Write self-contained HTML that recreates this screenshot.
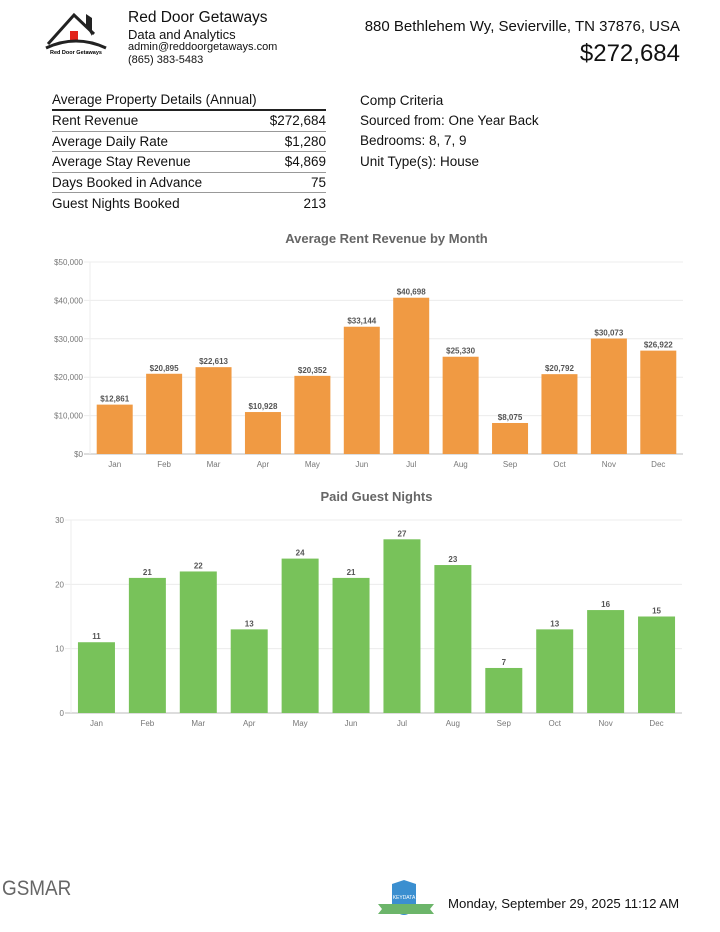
<!DOCTYPE html>
<html><head><meta charset="utf-8"><style>
body{margin:0;width:720px;height:932px;background:#fff;font-family:"Liberation Sans",sans-serif;color:#111;position:relative;overflow:hidden}
.a{position:absolute;white-space:nowrap}
table{position:absolute;left:52px;top:90px;width:274px;border-collapse:collapse;font-size:13.5px}
td{padding:0;height:19.6px;line-height:15px;border-bottom:1px solid #999}
td.r{text-align:right}
tr:first-child td{border-bottom:2px solid #222;height:19px}
</style></head><body>
<svg class="a" style="left:44px;top:10px" width="66" height="46">
<path d="M4 34 L30 5 L50 24" fill="none" stroke="#222" stroke-width="3"/>
<path d="M42 16 L42 4 L48 8 L48 26" fill="#222"/>
<rect x="26" y="21" width="8" height="10" fill="#e2231a"/>
<path d="M2 38 Q32 24 62 38" fill="none" stroke="#222" stroke-width="3"/>
<text x="32" y="44" font-size="5.5" text-anchor="middle" font-weight="bold" font-family="Liberation Sans">Red Door Getaways</text>
</svg>
<div class="a" style="left:128px;top:9px;font-size:15.5px">Red Door Getaways</div>
<div class="a" style="left:128px;top:27px;font-size:13px">Data and Analytics</div>
<div class="a" style="left:128px;top:41px;font-size:11px">admin@reddoorgetaways.com</div>
<div class="a" style="left:128px;top:54px;font-size:11px">(865) 383-5483</div>
<div class="a" style="right:40px;top:18px;font-size:15px">880 Bethlehem Wy, Sevierville, TN 37876, USA</div>
<div class="a" style="right:40px;top:40px;font-size:24px">$272,684</div>
<table>
<tr><td>Average Property Details (Annual)</td><td></td></tr>
<tr><td>Rent Revenue</td><td class="r">$272,684</td></tr>
<tr><td>Average Daily Rate</td><td class="r">$1,280</td></tr>
<tr><td>Average Stay Revenue</td><td class="r">$4,869</td></tr>
<tr><td>Days Booked in Advance</td><td class="r">75</td></tr>
<tr><td style="border:none">Guest Nights Booked</td><td class="r" style="border:none">213</td></tr>
</table>
<div class="a" style="left:360px;top:91px;font-size:13.5px;line-height:20.2px">Comp Criteria<br>Sourced from: One Year Back<br>Bedrooms: 8, 7, 9<br>Unit Type(s): House</div>
<svg class="a" style="left:0;top:0" width="720" height="932" id="charts"></svg>
<div class="a" style="left:2px;top:877px;font-size:21px;color:#666;font-weight:300;transform:scaleX(0.9);transform-origin:left">GSMAR</div>
<svg class="a" style="left:376px;top:880px" width="62" height="48">
<path d="M16 4 L28 0 L40 4 L40 26 Q28 44 16 26Z" fill="#3b8fd0"/>
<path d="M2 24 L58 24 L54 29 L58 34 L2 34 L6 29Z" fill="#6cb56a"/>
<text x="28" y="19" font-size="5" fill="#fff" text-anchor="middle" font-family="Liberation Sans">KEYDATA</text>
</svg>
<div class="a" style="left:448px;top:896px;font-size:13.2px">Monday, September 29, 2025 11:12 AM</div>
<script>
const months=["Jan","Feb","Mar","Apr","May","Jun","Jul","Aug","Sep","Oct","Nov","Dec"];
const revenue=[12861,20895,22613,10928,20352,33144,40698,25330,8075,20792,30073,26922];
const revTicks=[0,10000,20000,30000,40000,50000];
const nights=[11,21,22,13,24,21,27,23,7,13,16,15];
const nightTicks=[0,10,20,30];
const svg=document.getElementById('charts');
const NS='http://www.w3.org/2000/svg';
function mk(t,a,txt){const e=document.createElementNS(NS,t);for(const k in a)e.setAttribute(k,a[k]);if(txt!=null)e.textContent=txt;svg.appendChild(e);return e;}
function chart(o){
  const sy=v=>o.y0-(v/o.max)*(o.y0-o.y1);
  const bw=(o.x1-o.x0)/o.cats.length;
  const sx=i=>o.x0+bw*(i+0.5);
  let t=mk('text',{x:(o.x0+o.x1)/2,y:o.ty,'font-size':13,'font-weight':'bold','text-anchor':'middle',fill:'#666'},o.title);
  
  
  o.ticks.forEach(v=>{
    let l=mk('line',{x1:o.x0-6,x2:o.x1,y1:sy(v),y2:sy(v),stroke:v?'#ececec':'#bbb'});
    
    
    let tx=mk('text',{x:o.x0-7,y:sy(v)+3,'font-size':8,'text-anchor':'end',fill:'#777'},o.fmt(v));
    
    
  });
  let ax=mk('line',{x1:o.x0,x2:o.x0,y1:o.y1,y2:o.y0,stroke:'#eee'});
  
  
  o.vals.forEach((v,i)=>{
    let r=mk('rect',{x:sx(i)-o.bar/2,y:sy(v),width:o.bar,height:o.y0-sy(v),fill:o.color});
    
    
    let lb=mk('text',{x:sx(i),y:sy(v)-3,'font-size':8,'font-weight':'bold','text-anchor':'middle',fill:'#555'},o.fmt(v));
    
    
    let c=mk('text',{x:sx(i),y:o.y0+13,'font-size':8,'text-anchor':'middle',fill:'#777'},o.cats[i]);
    
    
  });
}
chart({name:'revenue-chart',title:'Average Rent Revenue by Month',ty:243,x0:90,x1:683,y0:454,y1:262,max:50000,cats:months,vals:revenue,ticks:revTicks,bar:36,color:'#f09a43',fmt:v=>'$'+v.toLocaleString('en-US')});
chart({name:'nights-chart',title:'Paid Guest Nights',ty:501,x0:71,x1:682,y0:713,y1:520,max:30,cats:months,vals:nights,ticks:nightTicks,bar:37,color:'#78c25a',fmt:v=>String(v)});
</script>
</body></html>
